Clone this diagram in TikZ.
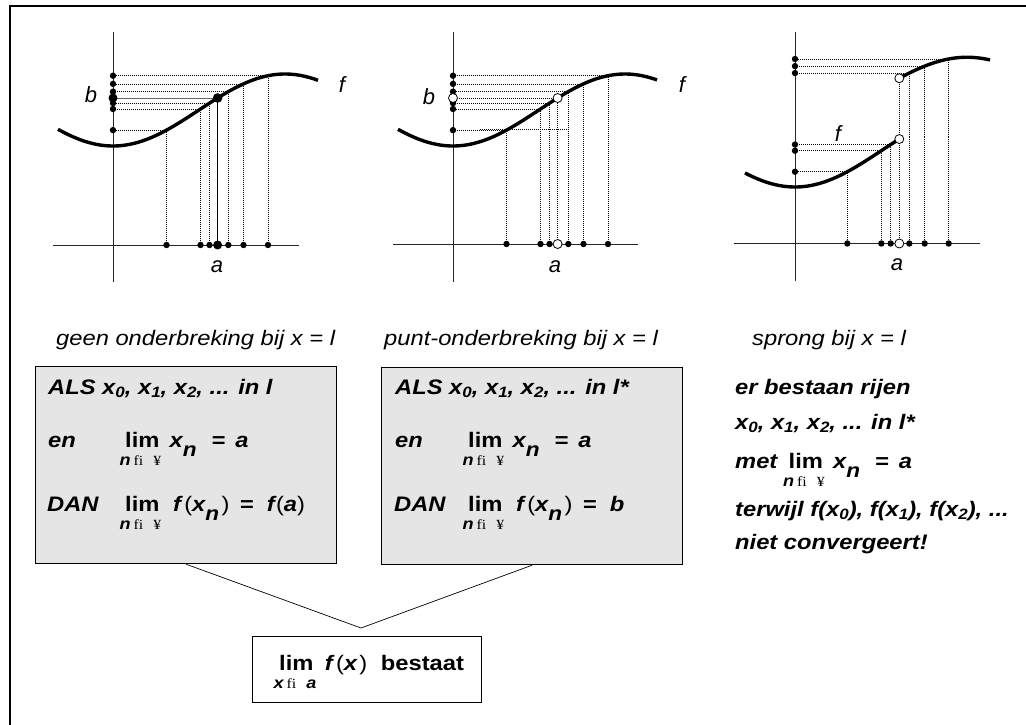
\documentclass[tikz,border=0pt]{standalone}
\usepackage{fontspec}
\usepackage{graphicx}
\setmainfont{Liberation Sans}
\newfontfamily\symserif{Liberation Serif}
\newcommand\SX[1]{\scalebox{1.13}[1]{#1}}
\newcommand\sbs[1]{\raisebox{-0.35ex}{\fontsize{15}{15}\selectfont #1}}
\newcommand\sbn{\raisebox{-0.85ex}{\fontsize{20}{20}\selectfont n}}
\newcommand\fiyen{{\symserif\mdseries\upshape\fontsize{14}{14}\selectfont fi\hspace{9pt}¥}}
\newcommand\fionly{{\symserif\mdseries\upshape\fontsize{14}{14}\selectfont fi}}
\newcommand\lpar{{\mdseries\upshape(}}
\newcommand\rpar{{\mdseries\upshape)}}
\newcommand\LIM[1]{\makebox[0pt][l]{\hspace{-5pt}\raisebox{-18pt}[0pt][0pt]{\fontsize{16}{16}\selectfont\bfseries\itshape #1}}{\upshape lim}}
\begin{document}
\begin{tikzpicture}[x=1pt,y=-1pt,
  declare function={g(\x)=110-36*sin(1.046512*(\x-86));
                    lo(\x)=150.9-36.1*sin(1.046512*(\x-86));
                    up(\x)=88.5-31.25*sin(1.046512*(\x-86));},
  axis/.style={line width=0.8pt, black!85},
  curve/.style={line width=3.4pt},
  dotl/.style={line width=0.6pt, dash pattern=on 1pt off 1pt},
  opendot/.style={fill=white, draw=black, line width=0.8pt},
  btxt/.style={inner sep=0pt, anchor=base west, font=\fontsize{21}{25}\selectfont\bfseries\itshape},
  capt/.style={inner sep=0pt, anchor=base west, font=\fontsize{21}{25}\selectfont\itshape},
  lbl/.style={inner sep=0pt, font=\fontsize{22}{22}\selectfont\itshape},
  graybox/.style={draw=black, line width=1.2pt, fill=gray!20, anchor=north west, inner sep=0pt},
  whitebox/.style={draw=black, line width=1.2pt, fill=white, anchor=north west, inner sep=0pt}
]
\useasboundingbox (0,0) rectangle (1026,725);
\fill[white] (0,0) rectangle (1026,725);
% frame
\draw[line width=1.3pt] (10,725) -- (10,6) -- (1026,6);

% ---------- graph 1 ----------
\begin{scope}[xshift=113pt]
  \draw[axis] (0,32) -- (0,282);
  \draw[axis] (-60,245) -- (186,245);
  \foreach \q in {53.5,87.5,96.5,115.3,130.5,155}{
    \draw[dotl] (\q,245) -- (\q,{g(\q)}) -- (0,{g(\q)});
  }
  \draw[line width=0.7pt] (104.6,245) -- (104.6,{g(104.6)});
  \draw[line width=0.9pt, black!60] (0,{g(104.6)}) -- (104.6,{g(104.6)});
  \draw[curve] plot[domain=-55:205, samples=100] (\x,{g(\x)});
  \foreach \q in {53.5,87.5,96.5,115.3,130.5,155}{
    \fill (\q,245) circle (3.2pt);
    \fill (0,{g(\q)}) circle (3.2pt);
  }
  \fill (104.6,{g(104.6)}) circle (4.8pt);
  \fill (104.6,245) circle (4.5pt);
  \fill (0,{g(104.6)}) circle (4.5pt);
\end{scope}
\node[lbl] (b1) at (91,95) {b};
\node[lbl] (f1) at (342,85) {f};
\node[lbl] (a1) at (217,267) {a};

% ---------- graph 2 ----------
\begin{scope}[xshift=453pt]
  \draw[axis] (0,32) -- (0,282);
  \draw[axis] (-60,244) -- (185,244);
  \foreach \q in {53.5,87.5,96.5,104.6,115.3,130.5,155}{
    \draw[dotl] (\q,244) -- (\q,{g(\q)}) -- (0,{g(\q)});
  }
  \draw[dotl] (27,129) -- (116,129);
  \draw[curve] plot[domain=-55:204, samples=100] (\x,{g(\x)});
  \foreach \q in {53.5,87.5,96.5,115.3,130.5,155}{
    \fill (\q,244) circle (3.2pt);
    \fill (0,{g(\q)}) circle (3.2pt);
  }
  \filldraw[opendot] (104.6,{g(104.6)}) circle (4.5pt);
  \filldraw[opendot] (104.6,244) circle (4.5pt);
  \filldraw[opendot] (0,{g(104.6)}) circle (4.5pt);
\end{scope}
\node[lbl] (b2) at (429,97) {b};
\node[lbl] (f2) at (682,85) {f};
\node[lbl] (a2) at (555,267) {a};

% ---------- graph 3 ----------
\begin{scope}[xshift=795pt]
  \draw[axis] (0,32) -- (0,281);
  \draw[axis] (-61,243.5) -- (185,243.5);
  \foreach \q in {52.3,86.3,95.7}{
    \draw[dotl] (\q,243.5) -- (\q,{lo(\q)}) -- (0,{lo(\q)});
  }
  \foreach \q in {114.3,129.7,153.7}{
    \draw[dotl] (\q,243.5) -- (\q,{up(\q)}) -- (0,{up(\q)});
  }
  \draw[dotl] (104.3,243.5) -- (104.3,{up(104.3)});
  \draw[curve] plot[domain=-50:104.3, samples=80] (\x,{lo(\x)});
  \draw[curve] plot[domain=104.3:195, samples=60] (\x,{up(\x)});
  \foreach \q in {52.3,86.3,95.7}{
    \fill (\q,243.5) circle (3.2pt);
    \fill (0,{lo(\q)}) circle (3.2pt);
  }
  \foreach \q in {114.3,129.7,153.7}{
    \fill (\q,243.5) circle (3.2pt);
    \fill (0,{up(\q)}) circle (3.2pt);
  }
  \filldraw[opendot] (104.3,{lo(104.3)}) circle (4.5pt);
  \filldraw[opendot] (104.3,{up(104.3)}) circle (4.5pt);
  \filldraw[opendot] (104.3,243.5) circle (4.5pt);
\end{scope}
\node[lbl] (f3) at (838,134) {f};
\node[lbl] (a3) at (897,265) {a};

% ---------- captions ----------
\node[capt] (c1) at (56,345) {\SX{geen onderbreking bij x = l}};
\node[capt] (c2) at (384,345) {\SX{punt-onderbreking bij x = l}};
\node[capt] (c3) at (752,345) {\SX{sprong bij x = l}};

% ---------- boxes ----------
\node[graybox, minimum width=301pt, minimum height=197pt] (box1) at (35,366) {};
\node[graybox, minimum width=301pt, minimum height=197pt] (box2) at (381,367) {};
\node[whitebox, minimum width=229pt, minimum height=66pt] (box3) at (252,636) {};
\coordinate (apex) at (361,628);
\draw[line width=0.7pt] (box1.south) -- (apex) -- (box2.south);

% box 1 text
\node[btxt] (als1) at (48,394) {\SX{ALS x\sbs{0}, x\sbs{1}, x\sbs{2}, ... in l}};
\node[btxt] (en1) at (48,447) {\SX{en}};
\node[btxt] (lim1) at (125,447) {\SX{\LIM{n\,\fiyen}\hspace{9pt}x\sbn\hspace{13pt}=\hspace{9pt}a}};
\node[btxt] (dan1) at (47,511) {\SX{DAN}};
\node[btxt] (limf1) at (125,511) {\SX{\LIM{n\,\fiyen}\hspace{12pt}f\hspace{3pt}\lpar x\sbn\hspace{2pt}\rpar\hspace{9pt}=\hspace{12pt}f\hspace{1pt}\lpar a\rpar}};

% box 2 text
\node[btxt] (als2) at (395,394) {\SX{ALS x\sbs{0}, x\sbs{1}, x\sbs{2}, ... in l*}};
\node[btxt] (en2) at (395,447) {\SX{en}};
\node[btxt] (lim2) at (468,447) {\SX{\LIM{n\,\fiyen}\hspace{9pt}x\sbn\hspace{13pt}=\hspace{9pt}a}};
\node[btxt] (dan2) at (394,511) {\SX{DAN}};
\node[btxt] (limf2) at (468,511) {\SX{\LIM{n\,\fiyen}\hspace{12pt}f\hspace{3pt}\lpar x\sbn\hspace{2pt}\rpar\hspace{9pt}=\hspace{12pt}b}};

% right text
\node[btxt] (t1) at (735,394) {\SX{er bestaan rijen}};
\node[btxt] (t2) at (735,429) {\SX{x\sbs{0}, x\sbs{1}, x\sbs{2}, ... in l*}};
\node[btxt] (t3) at (735,468) {\SX{met\hspace{10pt}\LIM{n\,\fiyen}\hspace{9pt}x\sbn\hspace{13pt}=\hspace{9pt}a}};
\node[btxt] (t4) at (735,516) {\SX{terwijl f(x\sbs{0}), f(x\sbs{1}), f(x\sbs{2}), ...}};
\node[btxt] (t5) at (735,549) {\SX{niet convergeert!}};

% bottom box text
\node[btxt, font=\fontsize{21}{25}\selectfont\bfseries\upshape] (bt) at (279,670)
  {\SX{\LIM{x\,\fionly\hspace{9pt}a}\hspace{10pt}{\itshape f}\hspace{3pt}\lpar{\itshape x}\hspace{2pt}\rpar\hspace{12pt}bestaat}};
\end{tikzpicture}
\end{document}
